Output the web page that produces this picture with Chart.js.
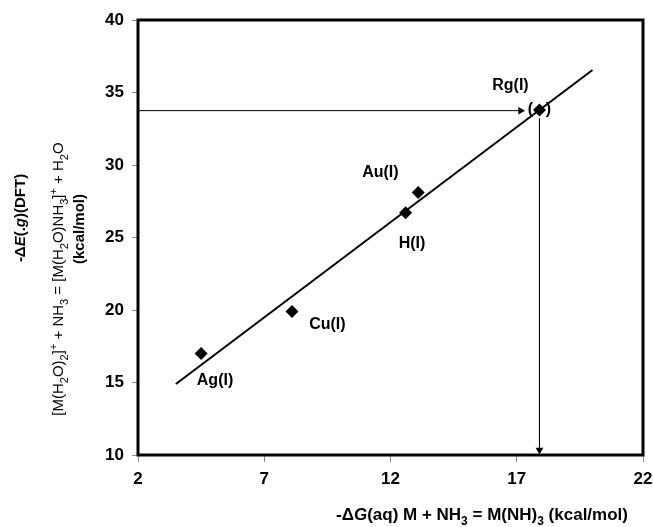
<!DOCTYPE html>
<html>
<head>
<meta charset="utf-8">
<script src="https://cdn.jsdelivr.net/npm/chart.js@4"></script>
<style>
  html, body { margin: 0; padding: 0; background: #fff; }
  #wrap { width: 653px; height: 527px; }
</style>
</head>
<body>
<div id="wrap"><canvas id="chartCtx"></canvas></div>
<script>
// values
var metals = ['Ag(I)', 'Cu(I)', 'H(I)', 'Au(I)', 'Rg(I)']
var dG = [4.5, 8.1, 12.6, 13.1, 17.9]      // -dG(aq), kcal/mol
var dE = [17.0, 19.9, 26.7, 28.1, 33.8]    // -dE(g)(DFT), kcal/mol
var labelX = [5.05, 9.5, 12.85, 11.6, 16.75]
var labelY = [15.15, 19.0, 24.6, 29.5, 35.45]
var fitX = [3.5, 20.0]
var fitY = [14.9, 36.55]
var hArrowX = [2, 17.15]
var hArrowY = [33.75, 33.75]
var vArrowX = [17.9, 17.9]
var vArrowY = [33.2, 10.35]
var xTicks = [2, 7, 12, 17, 22]
var yTicks = [10, 15, 20, 25, 30, 35, 40]

var FONT = '"Liberation Sans", Arial, sans-serif'

function pts(xs, ys) {
    return xs.map(function(x, i) { return {x: x, y: ys[i]} })
}

// draws a run of text pieces with sub/superscripts, centred on (0,0)
function richText(ctx, segs, size) {
    function fontOf(s) {
        var sz = (s.sub || s.sup) ? Math.round(size * 0.7) : size
        return (s.i ? 'italic ' : '') + (s.b ? 'bold ' : '') + sz + 'px ' + FONT
    }
    var total = 0
    segs.forEach(function(s) { ctx.font = fontOf(s); total += ctx.measureText(s.t).width })
    var x = -total / 2
    ctx.textBaseline = 'alphabetic'
    ctx.textAlign = 'left'
    segs.forEach(function(s) {
        ctx.font = fontOf(s)
        var dy = size * 0.36
        if (s.sub) dy += size * 0.3
        if (s.sup) dy -= size * 0.4
        ctx.fillText(s.t, x, dy)
        x += ctx.measureText(s.t).width
    })
}

var yTitle1 = [{t: '-\u0394', b: 1}, {t: 'E', b: 1, i: 1}, {t: '(.', b: 1}, {t: 'g', b: 1, i: 1}, {t: ')(DFT)', b: 1}]
var yTitle2 = [{t: '[M(H'}, {t: '2', sub: 1}, {t: 'O)'}, {t: '2', sub: 1}, {t: ']'}, {t: '+', sup: 1},
    {t: ' + NH'}, {t: '3', sub: 1}, {t: ' = [M(H'}, {t: '2', sub: 1}, {t: 'O)NH'}, {t: '3', sub: 1},
    {t: ']'}, {t: '+', sup: 1}, {t: ' + H'}, {t: '2', sub: 1}, {t: 'O'}]
var yTitle3 = [{t: '(kcal/mol)', b: 1}]
var xTitle = [{t: '-\u0394', b: 1}, {t: 'G', b: 1, i: 1}, {t: '(aq) M + NH', b: 1}, {t: '3', b: 1, sub: 1},
    {t: ' = M(NH)', b: 1}, {t: '3', b: 1, sub: 1}, {t: ' (kcal/mol)', b: 1}]

var decorPlugin = {
    id: 'decor',
    beforeDatasetsDraw: function(chart) {
        var a = chart.chartArea, ctx = chart.ctx
        ctx.save()
        ctx.strokeStyle = '#000'
        ctx.lineWidth = 3
        ctx.strokeRect(a.left, a.top, a.right - a.left, a.bottom - a.top)
        ctx.restore()
    },
    afterDatasetsDraw: function(chart) {
        var ctx = chart.ctx, xs = chart.scales.x, ys = chart.scales.y
        ctx.save()
        ctx.fillStyle = '#000'
        ctx.font = 'bold 16px ' + FONT
        ctx.textAlign = 'center'
        ctx.textBaseline = 'middle'
        metals.forEach(function(m, i) {
            ctx.fillText(m, xs.getPixelForValue(labelX[i]), ys.getPixelForValue(labelY[i]))
        })
        // brackets round the Rg point
        var rx = xs.getPixelForValue(dG[4]), ry = ys.getPixelForValue(dE[4])
        ctx.fillText('(', rx - 9, ry)
        ctx.fillText(')', rx + 9, ry)

        // axis titles
        ctx.save(); ctx.translate(20, 218); ctx.rotate(-Math.PI / 2); richText(ctx, yTitle1, 15); ctx.restore()
        ctx.save(); ctx.translate(58, 279); ctx.rotate(-Math.PI / 2); richText(ctx, yTitle2, 15); ctx.restore()
        ctx.save(); ctx.translate(79, 229); ctx.rotate(-Math.PI / 2); richText(ctx, yTitle3, 15); ctx.restore()
        ctx.save(); ctx.translate(482, 514); richText(ctx, xTitle, 17); ctx.restore()
        ctx.restore()
    }
}

var ctx = document.getElementById('chartCtx')
new Chart(ctx, {
    type: 'scatter',
    data: {
        datasets: [
            {
                data: pts(dG, dE),
                pointStyle: 'rectRot',
                pointRadius: 6.5,
                backgroundColor: '#000',
                borderColor: '#000',
                borderWidth: 0
            },
            {
                type: 'line',
                data: pts(fitX, fitY),
                borderColor: '#000',
                borderWidth: 2,
                pointRadius: 0
            },
            {
                type: 'line',
                data: pts(hArrowX, hArrowY),
                borderColor: '#000',
                borderWidth: 1,
                backgroundColor: '#000',
                pointStyle: 'triangle',
                pointRotation: 90,
                pointRadius: [0, 4.5],
                pointBorderWidth: 0
            },
            {
                type: 'line',
                data: pts(vArrowX, vArrowY),
                borderColor: '#000',
                borderWidth: 1,
                backgroundColor: '#000',
                pointStyle: 'triangle',
                pointRotation: 180,
                pointRadius: [0, 4.5],
                pointBorderWidth: 0
            }
        ]
    },
    options: {
        responsive: true,
        maintainAspectRatio: false,
        animation: false,
        layout: { padding: { left: 0, right: 10, top: 20, bottom: 0 } },
        plugins: {
            legend: { display: false },
            tooltip: { enabled: false }
        },
        scales: {
            x: {
                type: 'linear',
                min: 2,
                max: 22,
                afterBuildTicks: function(s) { s.ticks = xTicks.map(function(v) { return {value: v} }) },
                afterFit: function(s) { s.height = 72; s.paddingLeft = 0; s.paddingRight = 0 },
                grid: { drawOnChartArea: false, drawTicks: true, tickLength: 7, color: '#888', lineWidth: 1 },
                border: { display: false },
                ticks: { color: '#000', padding: 7, maxRotation: 0, font: { family: FONT, size: 17, weight: 'bold' } }
            },
            y: {
                type: 'linear',
                min: 10,
                max: 40,
                afterBuildTicks: function(s) { s.ticks = yTicks.map(function(v) { return {value: v} }) },
                afterFit: function(s) { s.width = 138 },
                grid: { drawOnChartArea: false, drawTicks: true, tickLength: 6, color: '#888', lineWidth: 1 },
                border: { display: false },
                ticks: { color: '#000', padding: 8, font: { family: FONT, size: 17, weight: 'bold' } }
            }
        }
    },
    plugins: [decorPlugin]
});
</script>
</body>
</html>
